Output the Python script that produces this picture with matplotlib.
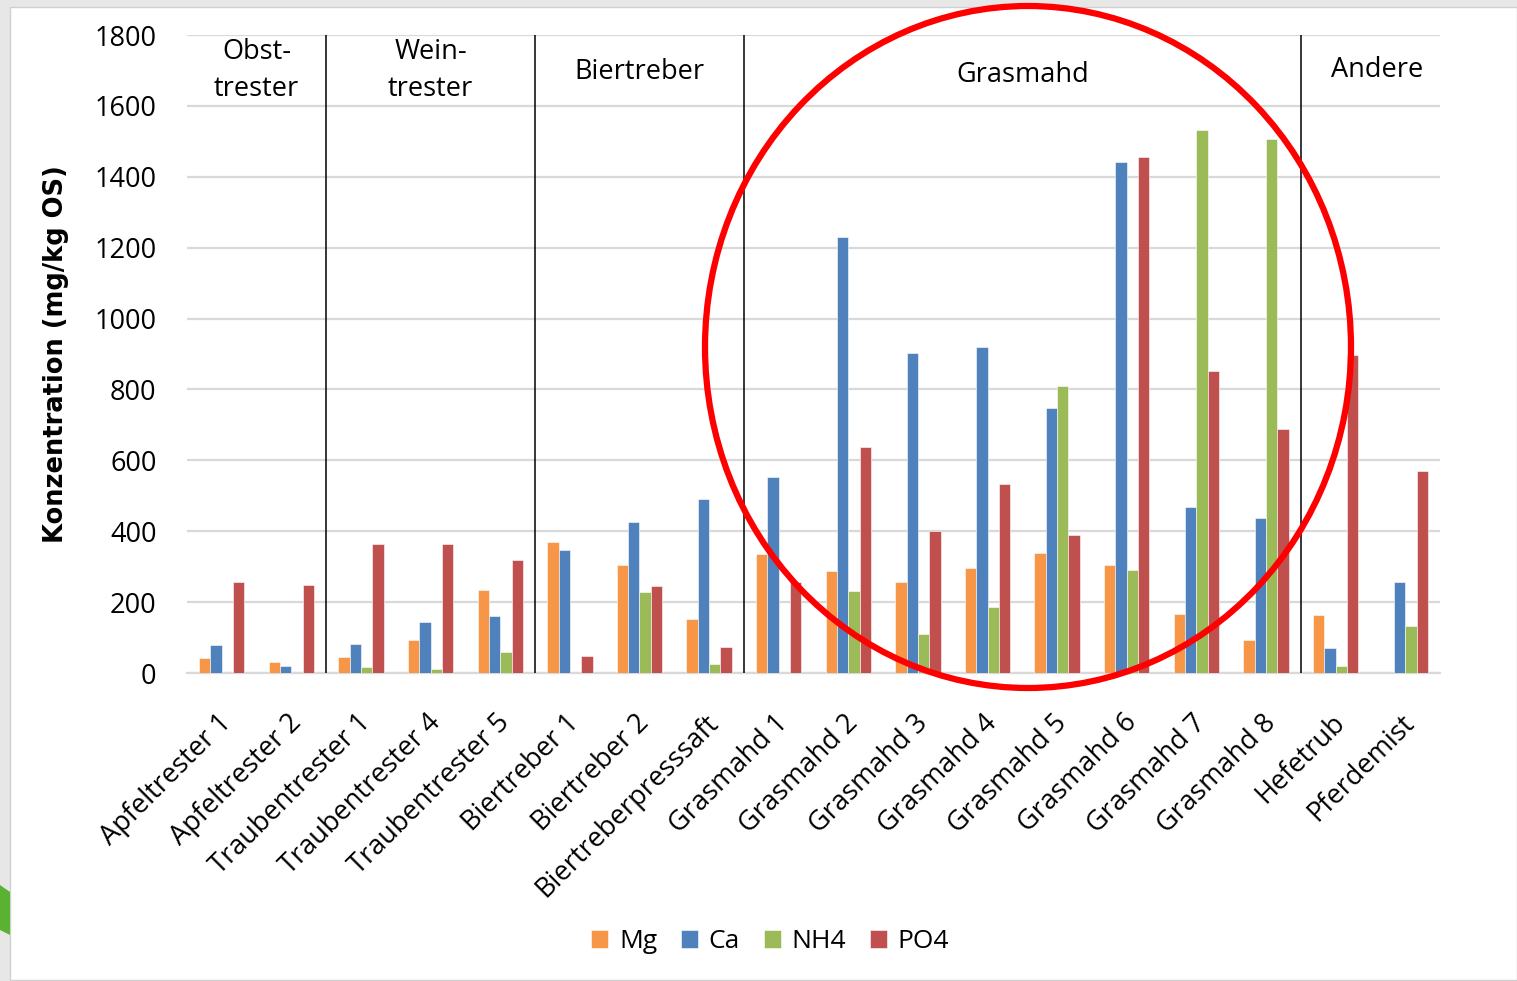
import numpy as np
import matplotlib
matplotlib.use("Agg")
import matplotlib.pyplot as plt
from matplotlib.patches import Ellipse, Rectangle, Polygon

# Daten
kategorien = ["Apfeltrester 1", "Apfeltrester 2", "Traubentrester 1", "Traubentrester 4",
              "Traubentrester 5", "Biertreber 1", "Biertreber 2", "Biertreberpresssaft",
              "Grasmahd 1", "Grasmahd 2", "Grasmahd 3", "Grasmahd 4", "Grasmahd 5",
              "Grasmahd 6", "Grasmahd 7", "Grasmahd 8", "Hefetrub", "Pferdemist"]
mg = [41, 30, 46, 92, 235, 371, 306, 153, 337, 288, 256, 295, 338, 305, 167, 92, 165, 0]
ca = [80, 19, 82, 144, 161, 346, 427, 492, 553, 1230, 904, 921, 748, 1443, 467, 437, 70, 256]
nh4 = [0, 0, 18, 12, 60, 0, 228, 26, 0, 231, 111, 187, 810, 291, 1532, 1507, 21, 134]
po4 = [258, 248, 363, 363, 318, 49, 246, 72, 256, 639, 401, 533, 390, 1455, 853, 688, 898, 569]
serien = ["Mg", "Ca", "NH4", "PO4"]
farben = ["#F79646", "#4F81BD", "#9BBB59", "#C0504D"]

gruppen = ["Obst-\ntrester", "Wein-\ntrester", "Biertreber", "Grasmahd", "Andere"]
gruppen_x = [0.5, 3.0, 6.0, 11.5, 16.6]
gruppen_y = [1700, 1700, 1696, 1687, 1701]
trenner = [1.5, 4.5, 7.5, 15.5]

schrift = "Open Sans"
gross = 19.5

fig = plt.figure(figsize=(15.17, 9.81), dpi=100)
fig.patch.set_facecolor("#e7e7e7")
fig.patches.append(Rectangle((10 / 1517, 1 / 981), 1507 / 1517, 973 / 981,
                             transform=fig.transFigure, facecolor="white",
                             edgecolor="#d0d0d0", lw=1, zorder=-2))
fig.patches.append(Polygon([(0, 1 - 885 / 981), (10 / 1517, 1 - 892 / 981),
                            (10 / 1517, 1 - 935 / 981), (0, 1 - 930 / 981)],
                           closed=True, transform=fig.transFigure,
                           facecolor="#5bb131", edgecolor="none", zorder=-1))

ax = fig.add_axes([187 / 1517, 1 - 673 / 981, 1253 / 1517, 638 / 981])
ax.set_facecolor("none")

x = np.arange(len(kategorien))
breite = 0.163
for i, (werte, farbe, name) in enumerate(zip([mg, ca, nh4, po4], farben, serien)):
    ax.bar(x + (i - 1.5) * breite, werte, breite, color=farbe, label=name,
           edgecolor="white", linewidth=0.4, zorder=3)

ax.set_xlim(-0.5, len(kategorien) - 0.5)
ax.set_ylim(0, 1800)
ax.set_yticks(np.arange(0, 1801, 200))
ax.yaxis.grid(True, color="#d9d9d9", lw=1.6, zorder=0)
ax.set_axisbelow(True)
for s in ["top", "right", "left"]:
    ax.spines[s].set_visible(False)
ax.spines["bottom"].set_color("#d9d9d9")
ax.spines["bottom"].set_linewidth(1.6)
ax.tick_params(axis="both", length=0)
ax.tick_params(axis="y", pad=22)
ax.tick_params(axis="x", pad=33)

ax.set_xticks(x + 0.08)
ax.set_xticklabels(kategorien, rotation=45, ha="right", va="center",
                   rotation_mode="anchor", fontsize=gross, family=schrift)
for lab in ax.get_yticklabels():
    lab.set_fontsize(gross)
    lab.set_family(schrift)

ax.set_ylabel("Konzentration (mg/kg OS)", fontsize=18.5, fontweight="bold",
              family=["Liberation Sans Narrow", "DejaVu Sans"], labelpad=18)

for t in trenner:
    ax.axvline(t, color="black", lw=1.1, zorder=4)

for name, gx, gy in zip(gruppen, gruppen_x, gruppen_y):
    ax.text(gx, gy, name, ha="center", va="center", fontsize=gross, family=schrift,
            linespacing=1.4, zorder=5)

leg = fig.legend(loc="center", bbox_to_anchor=(770 / 1517, 1 - 942 / 981), ncol=4,
                 frameon=False, handlelength=0.65, handleheight=0.65, handletextpad=0.4,
                 columnspacing=0.9, prop={"family": schrift, "size": 19})

# roter Kreis
fig.patches.append(Ellipse((1028 / 1517, 1 - 347 / 981), 646 / 1517, 682 / 981,
                           transform=fig.transFigure, fill=False, edgecolor="#ff0000",
                           lw=4.5, zorder=10))

fig.savefig("out.png", dpi=100)
